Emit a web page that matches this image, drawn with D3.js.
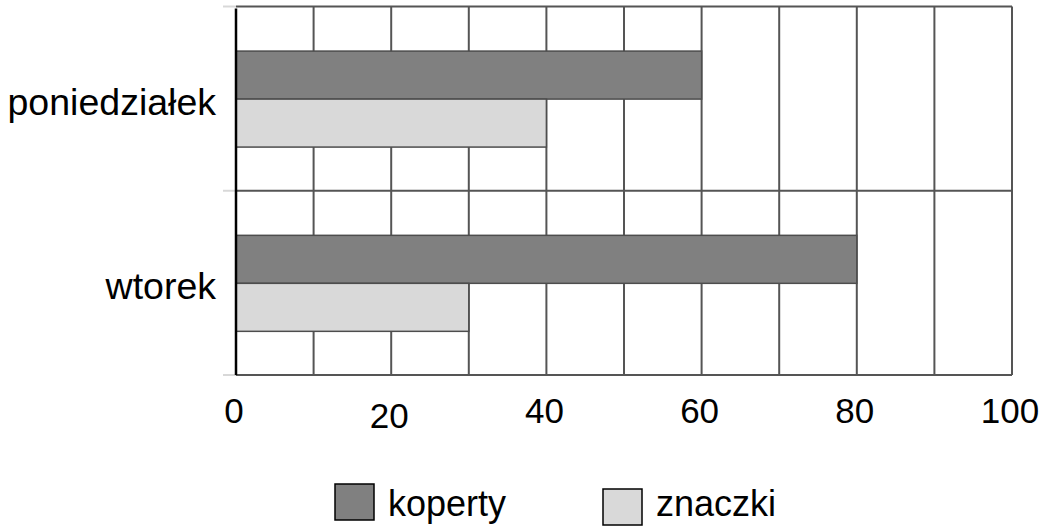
<html>
<head>
<meta charset="utf-8">
<script src="https://d3js.org/d3.v7.min.js"></script>
<style>
  body { margin: 0; background: #fff; }
  text { font-family: "Liberation Sans", Arial, sans-serif; fill: #000; }
</style>
</head>
<body>
<svg id="chart" width="1045" height="528"></svg>
<script>
// chart values
const days = ['poniedziałek', 'wtorek'];
const seriesNames = ['koperty', 'znaczki'];
const koperty = [60, 80];
const znaczki = [40, 30];
const xTicks = [0, 20, 40, 60, 80, 100];
const colors = ['#808080', '#d9d9d9'];

const svg = d3.select('#chart');

var x = d3.scaleLinear().domain([0, 100]).range([236, 1012]);
var y = d3.scaleBand().domain(days).range([6.5, 375]).paddingInner(0).paddingOuter(0);
// bars take the middle part of every day band
var ySub = d3.scaleBand().domain(seriesNames)
             .range([y.bandwidth() * 0.242, y.bandwidth() * 0.763]);

const rows = days.map((d, i) => ({ day: d, values: [koperty[i], znaczki[i]] }));

// grid: vertical lines every 10
const grid = svg.append('g');
grid.selectAll('line.v').data(d3.range(10, 101, 10)).join('line')
    .attr('x1', d => x(d)).attr('x2', d => x(d))
    .attr('y1', y.range()[0]).attr('y2', y.range()[1])
    .attr('stroke', '#555').attr('stroke-width', 2);

// horizontal band borders, with the light stub left of the axis
const borders = [y(days[0]), y(days[1]), y.range()[1]];
grid.selectAll('line.stub').data(borders).join('line')
    .attr('x1', x(0) - 13).attr('x2', x(0))
    .attr('y1', d => d).attr('y2', d => d)
    .attr('stroke', '#d8d8d8').attr('stroke-width', 2);
grid.selectAll('line.h').data(borders).join('line')
    .attr('x1', x(0)).attr('x2', x(100))
    .attr('y1', d => d).attr('y2', d => d)
    .attr('stroke', '#555').attr('stroke-width', 2);

// bars
const groups = svg.append('g').selectAll('g').data(rows).join('g')
    .attr('transform', d => 'translate(0,' + y(d.day) + ')');
groups.selectAll('rect').data(d => d.values.map((v, j) => ({ name: seriesNames[j], value: v, j: j })))
    .join('rect')
    .attr('x', x(0))
    .attr('y', d => ySub(d.name))
    .attr('width', d => x(d.value) - x(0))
    .attr('height', ySub.bandwidth())
    .attr('fill', d => colors[d.j])
    .attr('stroke', '#4d4d4d').attr('stroke-width', 1.5);

// left axis line
svg.append('line')
    .attr('x1', x(0)).attr('x2', x(0))
    .attr('y1', y.range()[0] + 2).attr('y2', y.range()[1])
    .attr('stroke', '#000').attr('stroke-width', 2.5);

// category labels
svg.append('g').selectAll('text').data(days).join('text')
    .attr('x', 216)
    .attr('y', d => y(d) + y.bandwidth() / 2 + 16)
    .attr('text-anchor', 'end')
    .style('font-size', '37.5px')
    .text(d => d);

// x tick labels
svg.append('g').selectAll('text').data(xTicks).join('text')
    .attr('x', d => x(d) - 2)
    .attr('y', d => d === 20 ? 428 : 423)
    .attr('text-anchor', 'middle')
    .style('font-size', '35px')
    .text(d => d);

// legend
const legendX = [335, 603];
const legendY = [484, 489];
const legend = svg.append('g').selectAll('g').data(seriesNames).join('g');
legend.append('rect')
    .attr('x', (d, i) => legendX[i]).attr('y', (d, i) => legendY[i])
    .attr('width', 39).attr('height', 36)
    .attr('fill', (d, i) => colors[i])
    .attr('stroke', '#000').attr('stroke-width', 1.5);
legend.append('text')
    .attr('x', (d, i) => legendX[i] + 53).attr('y', 516)
    .style('font-size', '36px')
    .text(d => d);
</script>
</body>
</html>
